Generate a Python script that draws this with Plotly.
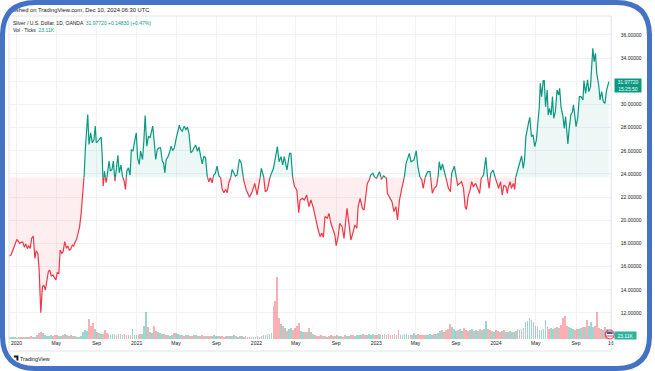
import pandas as pd
import plotly.graph_objects as go

# --- data -----------------------------------------------------------------
ORIGIN = "2020-01-01"
close_days = [-22,-17,-13,-8,-4,1,6,10,15,19,24,28,33,37,42,46,51,56,60,65,69,71,74,79,83,88,92,97,101,106,111,115,120,124,129,133,138,142,147,152,156,161,165,170,174,179,183,188,192,197,202,
206,210,215,217,221,226,231,236,240,243,248,253,258,261,264,268,273,277,282,286,291,295,300,303,309,313,318,323,328,332,336,341,346,350,355,359,365,369,374,378,384,388,392,397,402,407,411,415,419,424,429,434,439,444,448,452,456,461,466,471,476,481,486,491,496,500,505,511,516,521,526,531,536,541,546,551,556,561,566,571,576,581,586,591,596,601,606,611,617,622,627,632,637,642,647,652,657,662,667,
672,679,685,692,700,710,718,726,733,740,746,753,758,764,773,783,788,795,800,806,811,816,824,832,836,841,847,854,860,864,871,877,884,891,897,905,912,918,925,930,935,940,947,952,958,965,970,974,980,985,992,998,1007,1014,1019,1026,1031,1037,1041,1047,1054,1059,1064,1069,1075,1079,1086,1091,1097,1106,1112,1119,1127,1130,1137,1144,1150,1156,1161,1167,1174,1180,1187,1192,1197,1202,1211,1218,1223,1229,1235,1239,1246,1253,1260,1267,1273,1280,
1285,1288,1293,1298,1303,1309,1316,1322,1326,1334,1340,1344,1351,1356,1362,1367,1371,1376,1382,1387,1392,1399,1407,1411,1416,1423,1430,1435,1440,1445,1452,1458,1463,1469,1475,1480,1485,1491,1496,
1497,1504,1508,1514,1518,1521,1526,1531,1536,1539,1544,1548,1552,1556,1561,1564,1569,1574,1579,1584,1589,1593,1596,1600,1605,1608,1612,1617,1620,1624,1629,1633,1637,1642,1647,1652,1655,1659,1665,1669,1673,1677,1680,1684,1689,1694,1697,1701,1705,1710,1715,1720,1726,1729,1734,1740,1744,1749,1753,1756,1760,1764,1768,1774,1778,1783,1788,1793,1798,1803,1805]
close_values = [16.93,17.0,17.29,17.78,17.95,18.35,18.12,18.0,18.12,18.12,17.66,17.95,17.55,17.78,17.57,18.44,18.64,16.71,17.37,17.14,15.7,13.4,12.02,14.26,14.4,13.98,14.7,15.56,15.7,15.19,15.27,15.07,14.84,15.47,15.42,17.43,17.14,17.29,18.15,17.58,17.78,17.43,17.49,17.86,17.78,18.15,18.35,18.93,19.39,20.6,22.9,
23.81,26.26,28.99,29.14,26.55,27.55,26.69,26.98,28.13,26.69,26.83,26.98,27.18,25.68,22.95,24.24,23.24,23.96,25.11,24.24,24.39,25.11,23.38,24.1,25.62,24.1,24.76,23.81,23.38,22.66,24.24,24.53,23.9,26.11,25.97,26.69,27.55,25.39,24.82,25.97,25.25,26.83,29.05,26.4,27.27,27.12,27.55,28.13,26.98,25.25,26.11,26.26,26.26,25.11,24.96,24.1,25.25,25.45,25.83,26.4,26.03,26.26,26.98,27.55,28.22,27.84,27.7,28.13,27.84,28.04,27.41,25.83,25.97,26.26,26.49,25.97,26.32,25.54,24.88,25.54,25.39,23.81,23.32,23.67,23.24,23.9,24.04,24.67,23.81,23.67,22.66,22.37,22.66,22.37,23.24,23.52,24.39,24.1,23.81,
23.91,25.27,24.92,23.48,22.62,21.98,22.47,23.19,22.19,23.19,24.49,23.77,22.47,22.62,23.77,24.49,25.35,26.36,25.06,25.5,24.78,25.5,24.35,25.78,25.78,23.77,22.91,22.62,20.66,21.75,21.9,21.75,22.19,21.18,21.75,21.03,20.03,19.31,18.59,18.88,18.53,20.32,20.17,20.6,19.74,19.02,18.73,17.81,18.59,19.74,19.45,18.44,21.03,19.45,18.3,19.02,19.6,19.31,21.18,21.9,21.03,20.89,22.33,23.19,23.48,23.91,24.06,23.71,23.63,24.2,23.54,23.83,23.63,22.33,21.9,21.61,20.75,21.18,20.03,21.75,22.76,23.34,24.92,25.35,25.78,25.06,25.21,26.01,24.63,23.77,23.48,22.76,23.77,24.2,24.2,22.33,22.76,22.96,
23.91,25.06,24.34,24.86,24.2,23.62,22.76,22.47,24.05,24.68,23.76,23.04,23.19,23.33,22.76,21.17,20.94,22.04,22.61,23.33,22.9,23.19,22.61,22.32,23.62,23.91,25.43,23.76,22.76,24.05,24.34,23.76,23.19,22.76,23.33,22.18,23.04,22.9,22.32,
22.67,23.34,22.76,23.19,22.67,23.71,24.2,24.92,25.21,25.55,24.49,25.21,27.22,27.94,28.52,28.89,27.22,27.37,26.36,26.93,28.23,29.81,31.83,30.68,32.06,32.06,29.81,31.25,29.09,29.67,29.09,30.68,28.81,29.38,31.25,30.82,31.4,29.81,28.95,27.94,28.95,27.08,26.59,27.94,29.09,29.38,29.96,29.09,28.09,28.81,30.68,30.68,30.39,32.06,30.96,32.12,31.11,31.54,33.7,34.85,33.7,34.42,32.69,31.68,30.39,31.11,30.24,30.1,31.25,31.97,31.98]
BASELINE = 23.7

volume_k = [12,10,14,12,9,13,15,11,10,14,
12,16,13,15,24,36,42,34,24,16,
20,24,18,22,26,20,18,24,28,22,
20,24,18,16,14,12,20,40,54,48,
120,78,96,60,42,36,30,28,54,36,
30,26,30,28,24,32,28,24,30,26,
22,24,60,24,22,26,30,28,80,164,
70,40,34,78,48,42,36,30,28,24,
22,20,24,36,34,30,24,22,20,24,
26,20,18,24,22,20,18,24,20,18,
16,20,18,22,16,18,20,16,14,18,
18,16,20,22,18,14,16,20,12,16,
14,12,12,14,12,16,14,20,24,22,
28,30,36,198,228,372,126,90,78,66,
48,60,66,54,66,78,96,48,44,42,
40,66,40,30,22,18,20,24,18,16,
14,20,24,18,16,22,18,16,14,24,
18,20,24,22,20,26,24,22,28,26,
22,30,24,28,26,24,30,26,24,28,
24,28,26,24,32,26,54,24,26,30,
28,24,26,22,36,26,28,24,22,26,
26,24,28,26,30,28,36,48,54,42,
54,60,90,72,60,48,54,60,48,66,
52,48,56,60,50,54,46,58,52,60,
106,60,54,48,44,52,48,40,46,52,
44,40,48,42,40,48,60,54,62,66,
100,110,126,112,100,80,70,56,52,60,
114,70,60,66,60,64,70,64,84,126,
140,80,70,64,60,56,60,58,66,72,
70,114,76,100,72,80,162,66,60,56,
70,60,23.11]
volume_down_bars = [40, 42, 133, 134, 135, 136, 146, 297]
volume_up_bars = [69, 38, 260, 261, 262, 263, 264]

price_ticks = [12,14,16,18,20,22,24,26,28,30,32,34,36]
hidden_price_labels = [32]  # covered by the last-price box in the reference
time_tick_dates = ["2020-01-01","2020-05-01","2020-09-01","2021-01-01","2021-05-01","2021-09-01","2022-01-01","2022-05-01","2022-09-01","2023-01-01","2023-05-01","2023-09-01","2024-01-01","2024-05-01","2024-09-01","2024-12-16"]
time_tick_text = ["2020","May","Sep","2021","May","Sep","2022","May","Sep","2023","May","Sep","2024","May","Sep","16"]

GREEN, RED = "#089981", "#F23645"
INK = "#131722"
FONT = "Liberation Sans"
t0 = pd.Timestamp(ORIGIN)
def when(d):
    return (t0 + pd.Timedelta(days=float(d))).isoformat()

# Split the close line at the baseline so each side gets its own colour
up_d, up_v, dn_d, dn_v, all_d, all_v = [], [], [], [], [], []
for i, (d, v) in enumerate(zip(close_days, close_values)):
    if i:
        pd_, pv = close_days[i-1], close_values[i-1]
        if (pv - BASELINE) * (v - BASELINE) < 0:
            cross = pd_ + (BASELINE - pv) / (v - pv) * (d - pd_)
            for a, b in ((up_d, up_v), (dn_d, dn_v)):
                a.append(cross); b.append(BASELINE)
            if v > BASELINE:
                dn_d.append(None); dn_v.append(None)
            else:
                up_d.append(None); up_v.append(None)
            all_d.append(cross); all_v.append(BASELINE)
    (up_d if v >= BASELINE else dn_d).append(d)
    (up_v if v >= BASELINE else dn_v).append(v)
    all_d.append(d); all_v.append(v)

x_all = [when(d) for d in all_d]
def polygon(side):
    ys = [side(v, BASELINE) for v in all_v]
    return x_all + x_all[::-1], ys + [BASELINE] * len(ys)

fig = go.Figure()
px, py = polygon(max)
fig.add_trace(go.Scatter(x=px, y=py, fill="toself", fillcolor="rgba(8,153,129,0.075)", mode="none", hoverinfo="skip"))
px, py = polygon(min)
fig.add_trace(go.Scatter(x=px, y=py, fill="toself", fillcolor="rgba(242,54,69,0.085)", mode="none", hoverinfo="skip"))
fig.add_trace(go.Scatter(x=[when(d) if d is not None else None for d in up_d], y=up_v, mode="lines",
                         line=dict(color=GREEN, width=1.2), connectgaps=False, hoverinfo="skip"))
fig.add_trace(go.Scatter(x=[when(d) if d is not None else None for d in dn_d], y=dn_v, mode="lines",
                         line=dict(color=RED, width=1.2), connectgaps=False, hoverinfo="skip"))

# Volume columns, coloured by the direction of the close
vol_dates = pd.date_range("2019-12-10", "2024-12-10", periods=len(volume_k))
def close_at(day):
    prev = close_values[0]
    for d, v in zip(close_days, close_values):
        if d > day:
            break
        prev = v
    return prev
UP_FILL, DOWN_FILL = "rgba(8,153,129,0.40)", "rgba(242,54,69,0.40)"
vol_colors = []
for i, ts in enumerate(vol_dates):
    day = (ts - t0).days
    rising = close_at(day) >= close_at(day - 6)
    if i in volume_down_bars:
        rising = False
    if i in volume_up_bars:
        rising = True
    vol_colors.append(UP_FILL if rising else DOWN_FILL)
fig.add_trace(go.Bar(x=vol_dates, y=volume_k, marker=dict(color=vol_colors, line_width=0),
                     width=5.4 * 86400000, yaxis="y2", hoverinfo="skip"))

# Text that sits under the rounded frame
fig.add_trace(go.Scatter(x=[3], y=[11], xaxis="x3", yaxis="y3", mode="text",
                         text=["Published on TradingView.com, Dec 10, 2024 06:30 UTC"],
                         textposition="middle right", textfont=dict(family=FONT, size=5.8, color=INK),
                         hoverinfo="skip"))

W, H = 655, 371
GRID = "#f1f2f5"
fig.update_layout(
    width=W, height=H, showlegend=False, paper_bgcolor="white", plot_bgcolor="rgba(0,0,0,0)",
    margin=dict(l=0, r=0, t=0, b=0), bargap=0, barmode="overlay",
    font=dict(family=FONT, size=5, color=INK),
    xaxis=dict(domain=[9/W, 614/W], range=["2019-12-09", "2024-12-17"], type="date",
               tickvals=time_tick_dates, ticktext=time_tick_text, ticklen=2, tickcolor="rgba(0,0,0,0)",
               tickangle=0, showgrid=True, gridcolor=GRID, gridwidth=1, zeroline=False,
               showline=False, tickfont=dict(family=FONT, size=5, color=INK)),
    yaxis=dict(domain=[32/H, 355/H], range=[9.75, 37.64], side="right", tickvals=price_ticks,
               ticktext=["" if v in hidden_price_labels else f"{v:.5f}" for v in price_ticks],
               ticks="outside", ticklen=7.5,
               tickcolor="rgba(0,0,0,0)", showgrid=True, gridcolor=GRID, gridwidth=1,
               zeroline=False, showline=False, tickfont=dict(family=FONT, size=5, color=INK)),
    yaxis2=dict(domain=[32/H, 355/H], range=[0, 1938], overlaying="y", visible=False),
    xaxis3=dict(domain=[0, 1], range=[0, W], anchor="y3", visible=False),
    yaxis3=dict(domain=[0, 1], range=[H, 0], anchor="x3", visible=False),
)

def rounded(i, r):
    a, b, c, e = i, W - i, H - i, i
    return (f"M{a+r},{e} L{b-r},{e} Q{b},{e} {b},{e+r} L{b},{c-r} Q{b},{c} {b-r},{c} "
            f"L{a+r},{c} Q{a},{c} {a},{c-r} L{a},{e+r} Q{a},{e} {a+r},{e} Z")

def px_shape(**kw):
    return dict(xref="x3", yref="y3", layer="above", **kw)

BORDER = "#e0e3eb"
shapes = [
    px_shape(type="line", x0=9, x1=614, y0=16, y1=16, line=dict(color=BORDER, width=1)),
    px_shape(type="line", x0=9, x1=614, y0=351, y1=351, line=dict(color=BORDER, width=1)),
    px_shape(type="line", x0=614, x1=614, y0=16, y1=351, line=dict(color=BORDER, width=1)),
    px_shape(type="line", x0=9, x1=9, y0=16, y1=351, line=dict(color=BORDER, width=1)),
    # US flag marker
    px_shape(type="circle", x0=608, x1=617, y0=330, y1=339, fillcolor="white", line=dict(color=RED, width=1.2)),
    px_shape(type="rect", x0=609.5, x1=615.5, y0=331.5, y1=334, fillcolor="#3a5a9f", line_width=0),
    px_shape(type="line", x0=609, x1=616, y0=336, y1=336, line=dict(color=RED, width=1)),
    # TradingView logo mark
    px_shape(type="path", path="M14,355.5 L18.5,355.5 L18.5,360.5 L16.5,360.5 L16.5,357.5 L14,357.5 Z", fillcolor=INK, line_width=0),
    # White corners and the blue rounded frame
    px_shape(type="path", path=f"M0,0 L{W},0 L{W},{H} L0,{H} Z " + rounded(2.5, 33), fillcolor="white", line_width=0),
    px_shape(type="path", path=rounded(2.5, 33), line=dict(color="#4472C4", width=5)),
]
fig.update_layout(shapes=shapes)

def note(text, x, y, **kw):
    opts = dict(xref="x3", yref="y3", x=x, y=y, text=text, showarrow=False, xanchor="left", yanchor="middle",
                align="left", font=dict(family=FONT, size=5, color=INK))
    opts.update(kw)
    fig.add_annotation(**opts)

note(f'Silver / U.S. Dollar, 1D, OANDA  <span style="color:{GREEN}">31.97720 +0.14830 (+0.47%)</span>', 11, 22.5)
note(f'Vol · Ticks  <span style="color:{GREEN}">23.11K</span>', 11, 29.5)
note("TradingView", 18, 358.5, font=dict(family=FONT, size=5.4, color=INK))
note("31.97720<br>15:25:50", 631, 85.5, xanchor="center", align="center", bgcolor=GREEN, width=26, height=13,
     borderpad=0, font=dict(family=FONT, size=5, color="white"))
note("23.11K", 628.5, 335.5, xanchor="center", align="center", bgcolor="#2bb39e", width=21, height=7,
     borderpad=0, font=dict(family=FONT, size=5, color="white"))

fig.write_html("out.html", config=dict(displayModeBar=False),
               post_script="document.body.style.margin='0';document.documentElement.style.overflow='hidden';")
